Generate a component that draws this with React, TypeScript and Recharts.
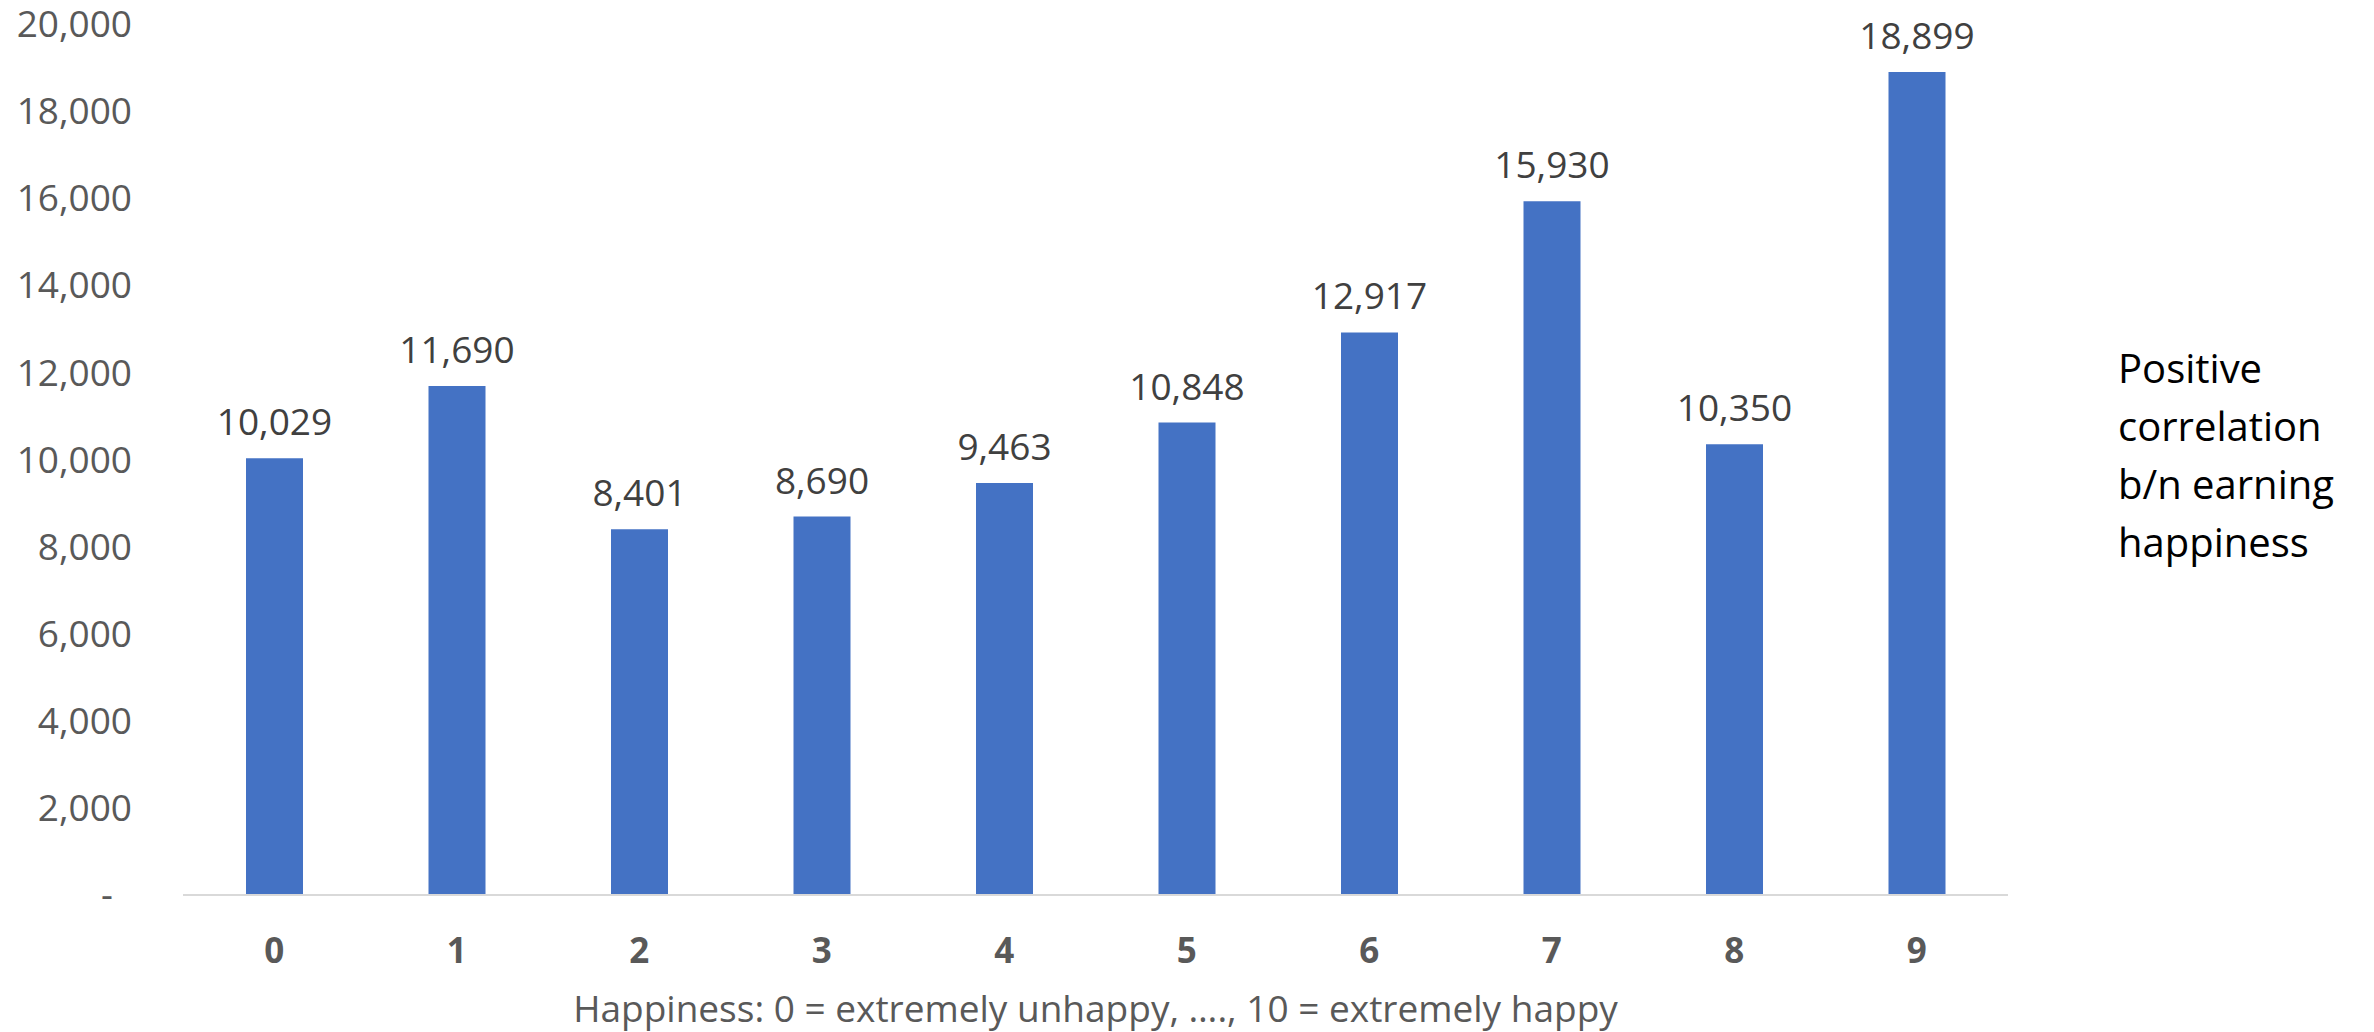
import { BarChart, Bar, XAxis, YAxis, LabelList } from 'recharts'

const happiness = ['0', '1', '2', '3', '4', '5', '6', '7', '8', '9']
const earnings = [10029, 11690, 8401, 8690, 9463, 10848, 12917, 15930, 10350, 18899]
const yTicks = [0, 2000, 4000, 6000, 8000, 10000, 12000, 14000, 16000, 18000, 20000]
const noteLines = ['Positive', 'correlation', 'b/n earning', 'happiness']

const data = happiness.map((label, i) => ({ label, earnings: earnings[i] }))

const FONT = '"Open Sans", sans-serif'

const fmt = (v: number) => v.toLocaleString('en-US')

// accounting style: zero shows as a dash, set a little in from the right
const YTick = (props: any) => {
  const { x, y, payload } = props
  const isZero = payload.value === 0
  return (
    <text
      x={isZero ? x - 19 : x}
      y={y}
      dy="0.355em"
      textAnchor="end"
      fontFamily={FONT}
      fontSize={37}
      fill="#595959"
    >
      {isZero ? '-' : fmt(payload.value)}
    </text>
  )
}

export default function App() {
  return (
    <div style={{ position: 'relative', width: 2374, height: 1032, background: '#fff' }}>
      <style>{'body{margin:0}'}</style>
      <BarChart
        width={2374}
        height={1032}
        data={data}
        margin={{ top: 24, right: 366, left: 0, bottom: 0 }}
      >
        <XAxis
          dataKey="label"
          height={137}
          tickLine={false}
          tickSize={0}
          tickMargin={43}
          axisLine={{ stroke: '#d9d9d9', strokeWidth: 2 }}
          tick={{ fontFamily: FONT, fontSize: 35, fontWeight: 700, fill: '#595959' }}
          label={{
            value: 'Happiness: 0 = extremely unhappy, …., 10 = extremely happy',
            position: 'insideBottom',
            offset: 10,
            fontFamily: FONT,
            fontSize: 37,
            fill: '#595959',
          }}
        />
        <YAxis
          width={183}
          domain={[0, 20000]}
          ticks={yTicks}
          interval={0}
          axisLine={false}
          tickLine={false}
          tickSize={0}
          tickMargin={51}
          tick={<YTick />}
        />
        <Bar dataKey="earnings" fill="#4472c4" barSize={57} isAnimationActive={false}>
          <LabelList
            dataKey="earnings"
            position="top"
            offset={23}
            formatter={(v: any) => fmt(Number(v))}
            style={{ fontFamily: FONT, fontSize: 37, fill: '#404040' }}
          />
        </Bar>
      </BarChart>
      <div
        style={{
          position: 'absolute',
          left: 2118,
          top: 339,
          fontFamily: FONT,
          fontSize: 40,
          lineHeight: '58px',
          color: '#000',
        }}
      >
        {noteLines.map((line) => (
          <div key={line}>{line}</div>
        ))}
      </div>
    </div>
  )
}
